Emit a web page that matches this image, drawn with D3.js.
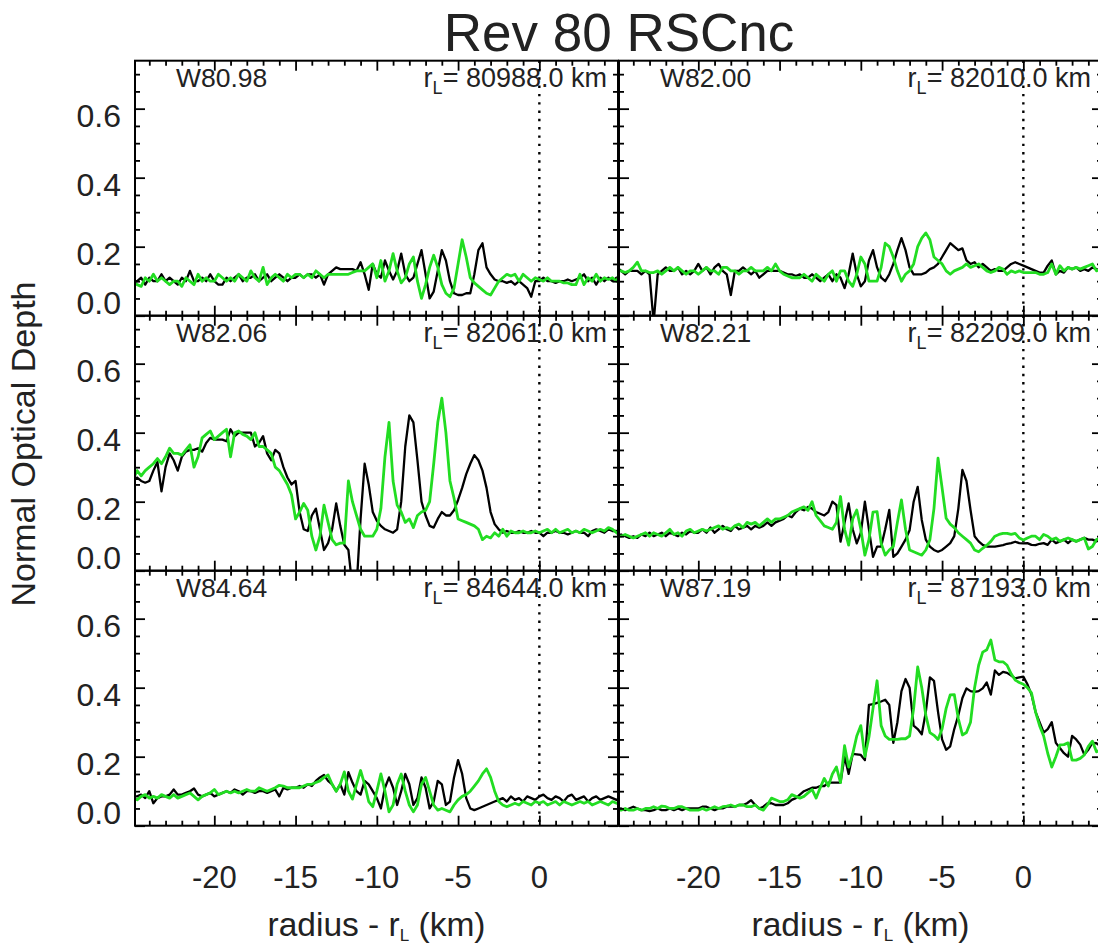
<!DOCTYPE html>
<html><head><meta charset="utf-8">
<script src="https://cdn.jsdelivr.net/npm/d3@7"></script>
<style>
html,body{margin:0;padding:0;background:#fff;}
svg{display:block;font-family:"Liberation Sans",Arial,Helvetica,sans-serif;}
</style></head><body>
<svg id="chart" width="1098" height="947"></svg>
<script>
// ---------------- DATA ----------------
// sampling grid: radius - r_L (km), 0.25 km steps from -25 to +5
const radiusGrid = d3.range(0, 121).map(i => -25 + i * 0.25);

const panelIds = ["W80.98", "W82.00", "W82.06", "W82.21", "W84.64", "W87.19"];
const panelRL  = ["80988.0", "82010.0", "82061.0", "82209.0", "84644.0", "87193.0"];

const w8098Black = [0.10,0.10,0.11,0.09,0.11,0.10,0.10,0.12,0.10,0.11,0.10,0.09,0.11,0.10,0.13,0.10,0.10,0.11,0.10,0.12,
0.10,0.09,0.09,0.11,0.10,0.11,0.12,0.10,0.11,0.11,0.12,0.10,0.11,0.12,0.10,0.11,0.12,0.11,0.10,0.11,
0.11,0.12,0.11,0.12,0.12,0.11,0.12,0.09,0.12,0.13,0.14,0.135,0.135,0.135,0.135,0.13,
0.155,0.12,0.075,0.15,0.12,0.11,0.16,0.13,0.105,0.13,0.18,0.12,0.10,0.11,0.15,0.19,0.12,0.05,0.07,0.13,0.19,0.16,0.10,0.065,0.06,0.06,0.065,0.065,0.12,0.19,0.21,0.14,0.12,0.105,0.10,
0.10,0.095,0.10,0.09,0.10,0.09,0.08,0.055,0.10,0.10,0.11,0.10,0.10,0.095,0.10,0.10,0.105,0.10,0.105,0.11,0.12,0.10,0.11,0.09,0.11,0.10,0.11,0.10,0.11,0.11];
const w8098Green = [0.10,0.09,0.085,0.11,0.10,0.12,0.10,0.11,0.10,0.09,0.10,0.10,0.085,0.11,0.10,0.09,0.12,0.10,0.11,0.10,
0.10,0.12,0.11,0.10,0.11,0.10,0.12,0.11,0.10,0.13,0.11,0.10,0.14,0.09,0.11,0.12,0.11,0.10,0.12,0.11,
0.12,0.12,0.11,0.12,0.11,0.13,0.12,0.11,0.12,0.12,0.12,0.12,0.12,0.12,0.125,0.13,
0.13,0.13,0.14,0.15,0.11,0.16,0.10,0.13,0.18,0.13,0.095,0.11,0.15,0.17,0.10,0.05,0.09,0.14,0.175,0.14,
0.09,0.065,0.055,0.08,0.15,0.22,0.17,0.11,0.095,0.085,0.075,0.065,0.06,0.08,0.10,0.11,0.12,0.115,0.12,0.10,
0.12,0.11,0.10,0.11,0.105,
0.10,0.11,0.10,0.10,0.10,0.095,0.095,0.09,0.09,0.12,0.09,0.11,0.10,0.12,0.10,0.11,0.105,0.11,0.10,0.125];

const w8200Black = [0.14,0.13,0.12,0.13,0.13,0.13,0.12,0.13,0.12,-0.02,
0.12,0.13,0.14,0.13,0.13,0.14,0.12,0.13,0.12,0.13,
0.15,0.13,0.14,0.12,0.14,0.15,0.13,0.12,0.06,0.13,
0.13,0.14,0.13,0.12,0.13,0.11,0.12,0.13,0.13,0.13,
0.13,0.125,0.12,0.12,0.115,0.12,0.11,0.11,0.12,0.11,
0.10,0.11,0.12,0.10,0.12,0.11,0.08,0.12,0.18,0.12,
0.085,0.10,0.16,0.19,0.14,0.11,0.10,0.12,0.15,0.19,
0.225,0.19,0.14,0.12,0.12,0.12,0.125,0.135,0.14,0.15,
0.17,0.19,0.21,0.20,0.19,0.195,0.16,0.15,0.155,0.14,
0.15,0.14,0.13,0.135,0.13,0.13,0.14,0.15,0.155,0.15,
0.145,0.14,0.135,0.13,0.125,0.125,0.145,0.16,0.12,0.13,
0.125,0.14,0.135,0.14,0.13,0.135,0.13,0.14,0.135,0.13,0.14];
const w8200Green = [0.13,0.13,0.125,0.13,0.14,0.155,0.13,0.13,0.125,0.125,
0.13,0.12,0.13,0.14,0.13,0.14,0.13,0.12,0.13,0.13,
0.12,0.13,0.14,0.13,0.13,0.12,0.14,0.14,0.13,0.13,
0.12,0.13,0.13,0.14,0.13,0.13,0.13,0.14,0.13,0.15,
0.13,0.12,0.115,0.11,0.11,0.11,0.12,0.11,0.10,0.12,
0.11,0.10,0.12,0.13,0.10,0.13,0.13,0.10,0.085,0.12,
0.17,0.15,0.10,0.10,0.10,0.14,0.21,0.20,0.17,0.13,
0.10,0.12,0.13,0.15,0.20,0.225,0.24,0.22,0.17,0.16,
0.15,0.13,0.12,0.13,0.135,0.14,0.15,0.14,0.145,0.15,
0.14,0.13,0.125,0.13,0.14,0.135,0.12,0.13,0.125,0.13,
0.125,0.125,0.125,0.125,0.12,0.12,0.125,0.15,0.12,0.145,
0.13,0.14,0.135,0.14,0.135,0.14,0.145,0.15,0.13,0.135,0.14];

const w8206Black = [0.26,0.27,0.26,0.255,0.26,0.29,0.315,0.23,0.30,0.34,
0.32,0.29,0.33,0.345,0.35,0.35,0.355,0.345,0.37,0.385,
0.38,0.38,0.38,0.375,0.41,0.39,0.40,0.40,0.40,0.40,
0.36,0.37,0.39,0.34,0.32,0.35,0.34,0.30,0.27,0.25,
0.26,0.17,0.12,0.115,0.16,0.18,0.12,0.06,0.08,0.12,
0.195,0.13,0.075,0.06,-0.05,-0.05,0.15,0.31,0.25,0.17,
0.145,0.13,0.12,0.115,0.11,0.12,0.20,0.36,0.45,0.43,
0.32,0.20,0.16,0.13,0.125,0.15,0.17,0.16,0.16,0.175,
0.205,0.24,0.28,0.31,0.335,0.32,0.29,0.24,0.17,0.135,
0.12,0.11,0.115,0.11,0.11,0.115,0.11,0.11,0.115,0.11,
0.11,0.10,0.11,0.11,0.115,0.11,0.11,0.105,0.11,0.115,
0.11,0.11,0.10,0.115,0.12,0.115,0.11,0.12,0.115,0.115,0.11];
const w8206Green = [0.265,0.29,0.275,0.29,0.30,0.31,0.325,0.31,0.33,0.355,
0.34,0.34,0.335,0.35,0.365,0.30,0.33,0.385,0.395,0.405,
0.38,0.39,0.40,0.41,0.33,0.40,0.405,0.395,0.39,0.38,
0.40,0.36,0.36,0.35,0.34,0.30,0.29,0.27,0.25,0.22,
0.15,0.17,0.195,0.175,0.10,0.06,0.10,0.19,0.14,0.09,
0.075,0.08,0.08,0.26,0.20,0.16,0.12,0.10,0.10,0.10,
0.12,0.18,0.33,0.43,0.26,0.19,0.17,0.14,0.15,0.125,
0.16,0.17,0.175,0.20,0.31,0.43,0.50,0.40,0.26,0.21,
0.15,0.145,0.14,0.135,0.13,0.12,0.09,0.10,0.095,0.11,
0.10,0.12,0.10,0.115,0.11,0.11,0.115,0.11,0.11,0.115,
0.11,0.115,0.12,0.11,0.12,0.11,0.115,0.12,0.11,0.115,
0.11,0.12,0.115,0.11,0.115,0.12,0.115,0.125,0.12,0.11,0.10];

const w8221Black = [0.10,0.105,0.10,0.095,0.10,0.095,0.105,0.10,0.11,0.10,
0.105,0.11,0.10,0.11,0.105,0.10,0.11,0.105,0.115,0.11,
0.11,0.12,0.11,0.125,0.11,0.12,0.13,0.12,0.115,0.13,
0.12,0.125,0.13,0.12,0.13,0.125,0.13,0.14,0.13,0.14,
0.145,0.15,0.16,0.155,0.17,0.18,0.175,0.185,0.18,0.17,
0.165,0.16,0.17,0.20,0.19,0.084,0.14,0.195,0.12,0.079,
0.11,0.20,0.12,0.04,0.07,0.07,0.12,0.176,0.04,0.05,
0.07,0.09,0.117,0.20,0.243,0.147,0.09,0.07,0.06,0.055,
0.06,0.07,0.08,0.10,0.18,0.292,0.26,0.176,0.10,0.085,
0.075,0.07,0.07,0.07,0.072,0.074,0.078,0.08,0.084,0.08,
0.079,0.08,0.075,0.074,0.078,0.08,0.075,0.09,0.08,0.085,
0.09,0.08,0.09,0.085,0.09,0.095,0.09,0.09,0.085,0.09,0.09];
const w8221Green = [0.10,0.10,0.105,0.10,0.095,0.10,0.105,0.11,0.10,0.11,
0.105,0.10,0.11,0.12,0.105,0.11,0.10,0.115,0.12,0.11,
0.115,0.12,0.115,0.12,0.125,0.13,0.12,0.125,0.12,0.13,
0.135,0.125,0.14,0.135,0.14,0.13,0.14,0.15,0.14,0.15,
0.15,0.155,0.16,0.17,0.175,0.18,0.185,0.175,0.20,0.16,
0.145,0.13,0.125,0.12,0.14,0.215,0.12,0.074,0.15,0.176,
0.12,0.045,0.09,0.17,0.171,0.08,0.045,0.06,0.07,0.14,
0.205,0.12,0.06,0.055,0.05,0.045,0.06,0.09,0.18,0.326,
0.24,0.152,0.135,0.125,0.11,0.10,0.09,0.08,0.06,0.055,
0.065,0.074,0.085,0.10,0.105,0.108,0.108,0.105,0.108,0.095,
0.089,0.095,0.10,0.10,0.09,0.105,0.10,0.09,0.095,0.085,
0.09,0.095,0.09,0.085,0.09,0.095,0.063,0.07,0.09,0.095,0.09];

const w8464Black = [0.085,0.085,0.09,0.08,0.10,0.065,0.08,0.085,0.085,0.09,
0.105,0.09,0.09,0.095,0.10,0.108,0.09,0.085,0.09,0.095,
0.085,0.09,0.095,0.10,0.095,0.105,0.10,0.09,0.10,0.10,
0.095,0.10,0.10,0.095,0.10,0.105,0.085,0.11,0.105,0.11,
0.11,0.115,0.11,0.12,0.115,0.13,0.14,0.147,0.13,0.12,
0.10,0.12,0.09,0.155,0.125,0.10,0.09,0.13,0.12,0.10,
0.08,0.05,0.11,0.14,0.11,0.06,0.10,0.15,0.12,0.06,
0.08,0.14,0.11,0.05,0.07,0.13,0.12,0.06,0.07,0.14,
0.19,0.15,0.08,0.05,0.045,0.05,0.055,0.06,0.065,0.07,
0.075,0.08,0.07,0.085,0.075,0.08,0.07,0.085,0.08,0.075,
0.085,0.09,0.08,0.075,0.085,0.08,0.07,0.085,0.09,0.075,
0.08,0.085,0.07,0.08,0.085,0.075,0.08,0.085,0.08,0.075,0.08];
const w8464Green = [0.08,0.075,0.085,0.09,0.08,0.085,0.08,0.09,0.085,0.08,
0.09,0.08,0.085,0.09,0.095,0.085,0.075,0.085,0.09,0.095,
0.105,0.09,0.095,0.10,0.095,0.10,0.095,0.10,0.105,0.10,
0.10,0.11,0.105,0.10,0.105,0.11,0.117,0.115,0.11,0.11,
0.11,0.11,0.115,0.12,0.12,0.125,0.13,0.14,0.147,0.12,
0.10,0.12,0.156,0.10,0.077,0.12,0.16,0.12,0.07,0.055,
0.10,0.15,0.10,0.04,0.06,0.12,0.15,0.10,0.06,0.04,
0.06,0.12,0.14,0.10,0.06,0.045,0.05,0.045,0.04,0.06,
0.075,0.085,0.09,0.10,0.115,0.13,0.15,0.165,0.14,0.10,
0.07,0.06,0.055,0.06,0.065,0.06,0.07,0.065,0.06,0.07,
0.065,0.07,0.06,0.065,0.07,0.06,0.07,0.065,0.06,0.065,
0.07,0.065,0.07,0.06,0.065,0.07,0.065,0.06,0.07,0.065,0.07];

const w8719Black = [0.047,0.05,0.045,0.05,0.055,0.05,0.045,0.045,0.042,0.045,
0.05,0.045,0.045,0.05,0.045,0.05,0.045,0.05,0.05,0.05,
0.05,0.055,0.055,0.05,0.045,0.05,0.05,0.055,0.055,0.055,
0.06,0.06,0.065,0.074,0.06,0.05,0.055,0.065,0.065,0.06,
0.06,0.06,0.065,0.075,0.08,0.09,0.10,0.105,0.11,0.11,
0.115,0.115,0.125,0.125,0.125,0.125,0.20,0.15,0.208,0.207,
0.205,0.19,0.35,0.352,0.356,0.36,0.365,0.35,0.24,0.30,
0.39,0.425,0.40,0.29,0.28,0.265,0.33,0.43,0.42,0.33,
0.25,0.22,0.23,0.28,0.32,0.37,0.398,0.39,0.388,0.39,
0.398,0.415,0.38,0.45,0.437,0.446,0.443,0.435,0.427,0.43,
0.432,0.41,0.38,0.33,0.30,0.27,0.28,0.30,0.24,0.225,
0.21,0.20,0.26,0.25,0.235,0.206,0.22,0.24,0.239,0.23,0.23];
const w8719Green = [0.045,0.045,0.05,0.045,0.045,0.05,0.045,0.05,0.05,0.055,
0.05,0.057,0.055,0.05,0.05,0.055,0.055,0.05,0.045,0.045,
0.045,0.05,0.045,0.05,0.055,0.05,0.055,0.057,0.06,0.055,
0.06,0.06,0.055,0.055,0.06,0.05,0.045,0.06,0.08,0.075,
0.07,0.07,0.075,0.09,0.085,0.08,0.085,0.095,0.105,0.08,
0.11,0.137,0.115,0.15,0.17,0.125,0.232,0.17,0.208,0.26,
0.29,0.20,0.257,0.34,0.42,0.29,0.26,0.25,0.25,0.25,
0.252,0.252,0.26,0.34,0.46,0.40,0.32,0.27,0.262,0.25,
0.28,0.34,0.379,0.38,0.31,0.263,0.27,0.30,0.40,0.465,
0.503,0.51,0.538,0.48,0.475,0.475,0.465,0.44,0.422,0.415,
0.41,0.40,0.385,0.33,0.29,0.26,0.21,0.17,0.20,0.234,
0.235,0.24,0.19,0.19,0.195,0.205,0.23,0.245,0.214,0.22,0.22];

const panelBlack = [w8098Black, w8200Black, w8206Black, w8221Black, w8464Black, w8719Black];
const panelGreen = [w8098Green, w8200Green, w8206Green, w8221Green, w8464Green, w8719Green];

const xMajorTicks = [-20, -15, -10, -5, 0];
const xTickLabels = ["-20", "-15", "-10", "-5", "0"];
const yMajorTicks = [0, 0.2, 0.4, 0.6];
const yTickLabels = ["0.0", "0.2", "0.4", "0.6"];
const chartTitle = "Rev 80 RSCnc";
const yTitle = "Normal Optical Depth";

// ---------------- LAYOUT ----------------
const svg = d3.select("#chart");
const W = 483, H = 255;
const colX = [135, 619];
const rowY = [60.7, 315.7, 570.7];
const xDomain = [-24.88, 4.84];
const yDomain = [0, 0.739];
const textColor = "#222";
const green = "#22dd22";

const x = d3.scaleLinear().domain(xDomain).range([0, W]);
const y = d3.scaleLinear().domain(yDomain).range([H, 0]);
const xMinor = d3.range(-24, 5).filter(v => !xMajorTicks.includes(v));
const yMinor = d3.range(0, 15).map(i => +(i * 0.05).toFixed(2)).filter(v => !yMajorTicks.some(m => Math.abs(m - v) < 1e-6));

// title
svg.append("text").attr("x", 619).attr("y", 51).attr("text-anchor", "middle")
  .attr("font-size", 53).attr("fill", textColor).text(chartTitle);

// y title
svg.append("text").attr("transform", "translate(35,444) rotate(-90)").attr("text-anchor", "middle")
  .attr("font-size", 34).attr("fill", textColor).text(yTitle);

const line = d3.line().x((d, i) => x(radiusGrid[i])).y(d => y(d));

panelIds.forEach((id, p) => {
  const col = p % 2, row = Math.floor(p / 2);
  const g = svg.append("g").attr("transform", `translate(${colX[col]},${rowY[row]})`);
  const clipId = "clip" + p;
  g.append("clipPath").attr("id", clipId).append("rect").attr("x", 0).attr("y", 0).attr("width", W).attr("height", H);

  // data
  const dg = g.append("g").attr("clip-path", `url(#${clipId})`);
  dg.append("line").attr("x1", x(0)).attr("x2", x(0)).attr("y1", 0).attr("y2", H)
    .attr("stroke", "#000").attr("stroke-width", 2.4).attr("stroke-dasharray", "2.4,5.9");
  dg.append("path").datum(panelBlack[p]).attr("d", line).attr("fill", "none")
    .attr("stroke", "#000").attr("stroke-width", 2.3).attr("stroke-linejoin", "round");
  dg.append("path").datum(panelGreen[p]).attr("d", line).attr("fill", "none")
    .attr("stroke", green).attr("stroke-width", 2.8).attr("stroke-linejoin", "round");

  // ticks via d3 axes (inward)
  const addAxis = (axis, tx, ty) => {
    const a = g.append("g").attr("transform", `translate(${tx},${ty})`).call(axis);
    a.select(".domain").remove();
    a.selectAll(".tick line").attr("stroke", "#000").attr("stroke-width", 1.8);
    a.selectAll(".tick text").remove();
  };
  addAxis(d3.axisBottom(x).tickValues(xMajorTicks).tickSize(-10).tickSizeOuter(0), 0, H);
  addAxis(d3.axisBottom(x).tickValues(xMinor).tickSize(-5).tickSizeOuter(0), 0, H);
  addAxis(d3.axisTop(x).tickValues(xMajorTicks).tickSize(-10).tickSizeOuter(0), 0, 0);
  addAxis(d3.axisTop(x).tickValues(xMinor).tickSize(-5).tickSizeOuter(0), 0, 0);
  addAxis(d3.axisLeft(y).tickValues(yMajorTicks).tickSize(-10).tickSizeOuter(0), 0, 0);
  addAxis(d3.axisLeft(y).tickValues(yMinor).tickSize(-5).tickSizeOuter(0), 0, 0);
  addAxis(d3.axisRight(y).tickValues(yMajorTicks).tickSize(-10).tickSizeOuter(0), W, 0);
  addAxis(d3.axisRight(y).tickValues(yMinor).tickSize(-5).tickSizeOuter(0), W, 0);

  // frame
  g.append("rect").attr("x", 0).attr("y", 0).attr("width", W).attr("height", H)
    .attr("fill", "none").attr("stroke", "#000").attr("stroke-width", 2);

  // panel labels
  g.append("text").attr("x", 41).attr("y", 26).attr("font-size", 26.5).attr("fill", textColor).text(id);
  const rl = g.append("text").attr("x", W - 11).attr("y", 26).attr("text-anchor", "end")
    .attr("font-size", 27).attr("fill", textColor);
  rl.append("tspan").text("r");
  rl.append("tspan").attr("dy", 7).attr("font-size", 18).text("L");
  rl.append("tspan").attr("dy", -7).text("= " + panelRL[p] + " km");

  // y tick labels (left column)
  if (col === 0) {
    yMajorTicks.forEach((v, k) => {
      g.append("text").attr("x", -14).attr("y", v === 0 ? H - 2 : y(v) + 18)
        .attr("text-anchor", "end").attr("font-size", 32).attr("fill", textColor).text(yTickLabels[k]);
    });
  }
  // x tick labels (bottom row)
  if (row === 2) {
    xMajorTicks.forEach((v, k) => {
      g.append("text").attr("x", x(v)).attr("y", 888 - rowY[2])
        .attr("text-anchor", "middle").attr("font-size", 31).attr("fill", textColor).text(xTickLabels[k]);
    });
    const xt = g.append("text").attr("x", W / 2).attr("y", 936 - rowY[2]).attr("text-anchor", "middle")
      .attr("font-size", 33.5).attr("fill", textColor);
    xt.append("tspan").text("radius - r");
    xt.append("tspan").attr("dy", 5).attr("font-size", 17).text("L");
    xt.append("tspan").attr("dy", -5).text("  (km)");
  }
});
</script>
</body></html>
